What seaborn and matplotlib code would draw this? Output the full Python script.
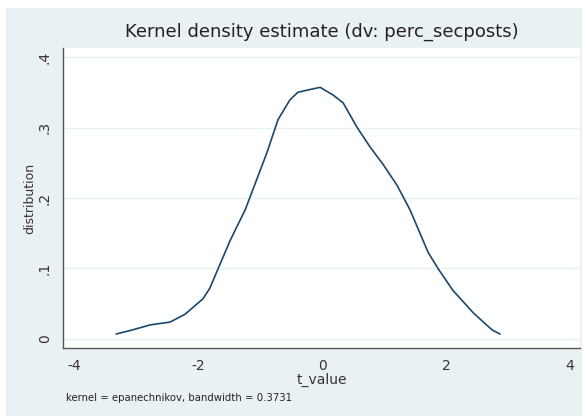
import matplotlib
matplotlib.use("Agg")
import matplotlib.pyplot as plt
from matplotlib.patches import Rectangle
import seaborn as sns
import pandas as pd

t_value = [-3.32, -3.05, -2.77, -2.45, -2.21, -1.92, -1.81, -1.65, -1.48, -1.24,
           -0.89, -0.71, -0.52, -0.39, -0.24, -0.03, 0.18, 0.34, 0.56, 0.77,
           0.99, 1.21, 1.42, 1.71, 1.87, 2.11, 2.44, 2.74, 2.87]
density = [0.007, 0.013, 0.020, 0.024, 0.035, 0.057, 0.072, 0.105, 0.140, 0.183,
           0.264, 0.311, 0.339, 0.350, 0.353, 0.357, 0.346, 0.335, 0.301, 0.273,
           0.247, 0.218, 0.183, 0.123, 0.100, 0.069, 0.037, 0.013, 0.007]
x_ticks = [-4, -2, 0, 2, 4]
y_ticks = [0, 0.1, 0.2, 0.3, 0.4]
y_ticklabels = ["0", ".1", ".2", ".3", ".4"]

df = pd.DataFrame({"t_value": t_value, "distribution": density})

sns.set_style("white")
plt.rcParams["font.family"] = ["DejaVu Sans"]

fig = plt.figure(figsize=(5.88, 4.18), dpi=100, facecolor="white")
bg = Rectangle((6 / 588, 2 / 418), 576 / 588, 408 / 418, transform=fig.transFigure,
               facecolor="#EAF1F4", edgecolor="none", zorder=-10)
fig.patches.append(bg)

ax = fig.add_axes([63 / 588, 70 / 418, 517 / 588, 300 / 418])
ax.set_zorder(5)
ax.set_facecolor("white")
sns.lineplot(data=df, x="t_value", y="distribution", ax=ax, color="#1A476F", linewidth=1.2)

ax.set_xlim(-4.177, 4.16)
ax.set_ylim(-0.0128, 0.4128)
ax.set_xticks(x_ticks)
ax.set_xticklabels([str(v) for v in x_ticks], fontsize=10, color="#333333")
ax.set_yticks(y_ticks)
ax.set_yticklabels(y_ticklabels, fontsize=10, rotation=90, va="center", color="#333333")
ax.tick_params(axis="both", direction="out", length=5, width=0.8, color="#555555", pad=3)
ax.grid(axis="y", color="#EAF1F4", linewidth=1)
ax.grid(axis="x", visible=False)
for s in ["top", "right"]:
    ax.spines[s].set_visible(False)
for s in ["left", "bottom"]:
    ax.spines[s].set_color("#555555")
    ax.spines[s].set_linewidth(1)

ax.set_xlabel("t_value", fontsize=10, color="#333333", labelpad=0)
ax.set_ylabel("distribution", fontsize=9, color="#333333", labelpad=1)

fig.text(322 / 588, 1 - 32 / 418, "Kernel density estimate (dv: perc_secposts)",
         ha="center", va="center", fontsize=13, color="#222222", zorder=6)
fig.text(66 / 588, 1 - 398 / 418, "kernel = epanechnikov, bandwidth = 0.3731",
         ha="left", va="center", fontsize=7.3, color="#222222", zorder=6)

fig.savefig("out.png", dpi=100, facecolor="white")
